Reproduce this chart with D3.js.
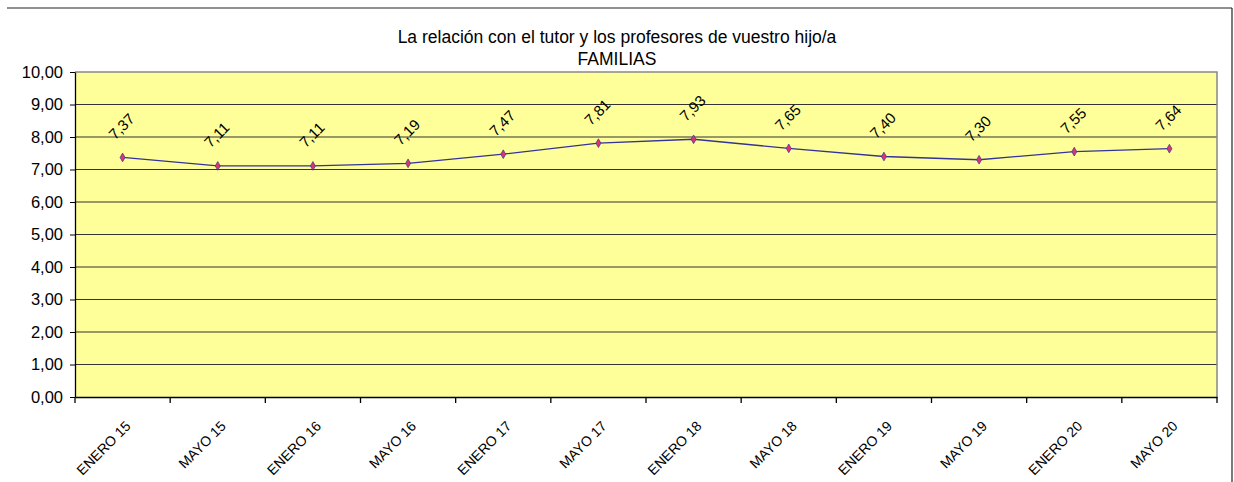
<!DOCTYPE html>
<html><head><meta charset="utf-8">
<script src="https://cdn.jsdelivr.net/npm/d3@7"></script>
<style>body{margin:0;background:#fff;}svg{display:block;font-family:"Liberation Sans",Arial,sans-serif;}</style>
</head><body>
<svg id="c" width="1234" height="482"></svg>
<script>
const categories = ["ENERO 15","MAYO 15","ENERO 16","MAYO 16","ENERO 17","MAYO 17","ENERO 18","MAYO 18","ENERO 19","MAYO 19","ENERO 20","MAYO 20"];
const values = [7.37,7.11,7.11,7.19,7.47,7.81,7.93,7.65,7.40,7.30,7.55,7.64];
const yTicks = [0,1,2,3,4,5,6,7,8,9,10];
const titleLines = ["La relación con el tutor y los profesores de vuestro hijo/a","FAMILIAS"];

const svg = d3.select("#c");
const L = 75, R = 1217, T = 72, B = 397;
const fmt = v => d3.format(".2f")(v).replace(".", ",");

// chart frame
svg.append("line").attr("x1",7).attr("x2",1232).attr("y1",8).attr("y2",8).attr("stroke","#222").attr("stroke-width",1.2);
svg.append("line").attr("x1",1232).attr("x2",1232).attr("y1",8).attr("y2",482).attr("stroke","#222").attr("stroke-width",1.2);

const x = d3.scaleBand().domain(categories).range([L,R]).padding(0);
const y = d3.scaleLinear().domain([0,10]).range([B,T]);

svg.append("rect").attr("x",L).attr("y",T).attr("width",R-L).attr("height",B-T).attr("fill","#FFFF99");
// gridlines
svg.append("g").selectAll("line").data(yTicks.filter(d=>d>0&&d<10)).join("line")
  .attr("x1",L).attr("x2",R).attr("y1",d=>y(d)).attr("y2",d=>y(d)).attr("stroke","#333").attr("stroke-width",1.2);
// plot border top/right
svg.append("path").attr("d",`M${L},${T}H${R}V${B}`).attr("fill","none").attr("stroke","#888").attr("stroke-width",1.5);

// y axis
const ya = svg.append("g").attr("transform",`translate(${L},0)`)
  .call(d3.axisLeft(y).tickValues(yTicks).tickFormat(fmt).tickSize(5).tickSizeOuter(0));
ya.select(".domain").attr("stroke","#000").attr("stroke-width",1.3);
ya.selectAll(".tick line").attr("stroke","#000");
ya.selectAll("text").attr("font-size",16.5).attr("fill","#000").attr("x",-12).attr("font-family","Liberation Sans, Arial, sans-serif");

// x axis
const xa = svg.append("g").attr("transform",`translate(0,${B})`)
  .call(d3.axisBottom(x).tickSize(0).tickSizeOuter(0));
xa.select(".domain").attr("stroke","#000").attr("stroke-width",1.3);
xa.selectAll(".tick line").remove();
svg.append("g").selectAll("line").data(d3.range(categories.length+1)).join("line")
  .attr("x1",i=>L+i*x.step()).attr("x2",i=>L+i*x.step()).attr("y1",B).attr("y2",B+6).attr("stroke","#000").attr("stroke-width",1.3);
xa.selectAll("text").attr("font-size",14).attr("fill","#000").attr("font-family","Liberation Sans, Arial, sans-serif")
  .attr("text-anchor","end").attr("dy",0).attr("y",0)
  .attr("transform","translate(9,30) rotate(-45)");

// line
const cx = d => x(d) + x.bandwidth()/2;
svg.append("path").datum(values)
  .attr("d", d3.line().x((d,i)=>cx(categories[i])).y(d=>y(d)))
  .attr("fill","none").attr("stroke","#333399").attr("stroke-width",1.3);
svg.append("g").selectAll("path").data(values).join("path")
  .attr("d", d3.symbol().type(d3.symbolDiamond).size(22))
  .attr("transform",(d,i)=>`translate(${cx(categories[i])},${y(d)})`)
  .attr("fill","#E0336E").attr("stroke","#333399").attr("stroke-width",0.7);

// data labels
svg.append("g").selectAll("text").data(values).join("text")
  .attr("transform",(d,i)=>`translate(${cx(categories[i])-1},${y(d)-31}) rotate(-45)`)
  .attr("text-anchor","middle").attr("dy","0.35em").attr("font-size",15).attr("fill","#000").text(fmt);

// title
svg.append("g").selectAll("text").data(titleLines).join("text")
  .attr("x",617).attr("y",(d,i)=>43+i*22).attr("text-anchor","middle").attr("font-size",17.5).attr("fill","#000").text(d=>d);
</script>
</body></html>
